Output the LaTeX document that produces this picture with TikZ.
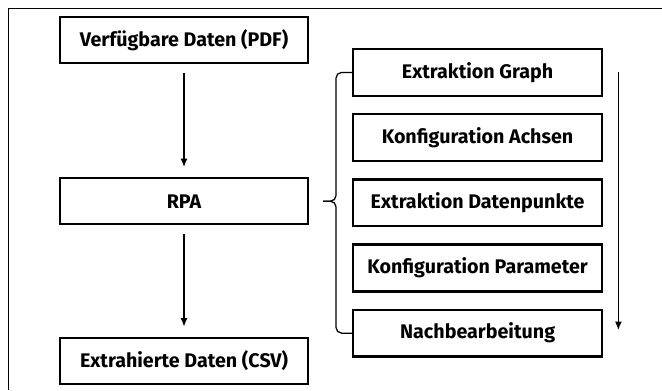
\documentclass[tikz,border=0pt]{standalone}
\usepackage{fontspec}
\setmainfont{Fira Sans}
\usetikzlibrary{positioning,arrows.meta}

\begin{document}
\begin{tikzpicture}[node distance=2.8cm,
	  box/.style={rectangle,draw,line width=1.7pt,minimum width=6.2cm,minimum height=1.15cm,
	    inner sep=0pt,font=\fontsize{14}{16}\selectfont\bfseries},
	  sub/.style={box,minimum width=6.22cm,minimum height=1.17cm},
	  link/.style={line width=0.9pt,-{Latex[length=6pt,width=5pt]}}]

	  \useasboundingbox (0,0) rectangle (16.55,-9.75);
	  % frame (only top and left edge visible)
	  \draw[line width=0.9pt] (16.55,-0.22) -- (0.22,-0.22) -- (0.22,-9.75);

	  % left column
	  \node[box] (pdf) at (4.6,-1.0) {Verfügbare Daten (PDF)};
	  \node[box] (rpa) [below=2.82cm of pdf] {RPA};
	  \node[box] (csv) [below=2.78cm of rpa] {Extrahierte Daten (CSV)};

	  \draw[link] ([yshift=-0.22cm]pdf.south) -- ([yshift=0.25cm]rpa.north);
	  \draw[link] ([yshift=-0.22cm]rpa.south) -- ([yshift=0.25cm]csv.north);

	  % right column
	  \node[sub] (graph) at (11.94,-1.81) {Extraktion Graph};
	  \node[sub] (achsen) [below=0.4cm of graph] {Konfiguration Achsen};
	  \node[sub] (punkte) [below=0.4cm of achsen] {Extraktion Datenpunkte};
	  \node[sub] (param) [below=0.4cm of punkte] {Konfiguration Parameter};
	  \node[sub] (nach) [below=0.4cm of param] {Nachbearbeitung};

	  % bracket
	  \coordinate (tip) at ([xshift=0.35cm]rpa.east);
	  \draw[line width=0.9pt,rounded corners=4pt] (graph.west) -- ++(-0.4,0) |- (tip);
	  \draw[line width=0.9pt,rounded corners=4pt] (nach.west) -- ++(-0.4,0) |- (tip);

	  \draw[link] ([xshift=0.38cm]graph.east) -- ([xshift=0.38cm,yshift=0.08cm]nach.east);

	\end{tikzpicture}
\end{document}
